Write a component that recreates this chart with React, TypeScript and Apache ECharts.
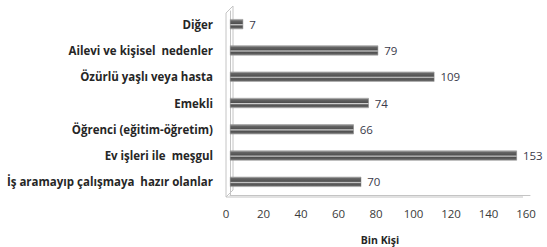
import React, { useEffect, useRef } from "react";
import * as echarts from "echarts";

const categories = [
  "İş aramayıp çalışmaya  hazır olanlar",
  "Ev işleri ile  meşgul",
  "Öğrenci (eğitim-öğretim)",
  "Emekli",
  "Özürlü yaşlı veya hasta",
  "Ailevi ve kişisel  nedenler",
  "Diğer",
];
const values = [70, 153, 66, 74, 109, 79, 7];
const xTicks = [0, 20, 40, 60, 80, 100, 120, 140, 160];
const axisTitle = "Bin Kişi";

export default function App() {
  const ref = useRef<HTMLDivElement>(null);
  useEffect(() => {
    if (!ref.current) return;
    const chart = echarts.init(ref.current, null, { renderer: "svg" });
    const font = "'Open Sans', 'Liberation Sans', Arial, sans-serif";
    chart.setOption({
      animation: false,
      backgroundColor: "#ffffff",
      grid: { left: 230, right: 17, top: 11, bottom: 52, containLabel: false, outerBoundsMode: "none" },
      xAxis: {
        type: "value",
        min: xTicks[0],
        max: xTicks[xTicks.length - 1],
        interval: 20,
        splitLine: { show: false },
        axisTick: { show: false },
        axisLine: { show: true, lineStyle: { color: "#c4c4c4", width: 1 } },
        axisLabel: {
          color: "#3a3a3a",
          fontSize: 11.5,
          fontFamily: font,
          margin: 12,
          padding: [0, 8, 0, 0],
        },
        name: axisTitle,
        nameLocation: "middle",
        nameGap: 39,
        nameTextStyle: { color: "#262626", fontSize: 10.5, fontWeight: "bold", fontFamily: font },
      },
      yAxis: {
        type: "category",
        data: categories,
        axisTick: { show: false },
        axisLine: { show: true, lineStyle: { color: "#c4c4c4", width: 1 } },
        axisLabel: {
          color: "#262626",
          fontSize: 11.5,
          fontWeight: "bold",
          fontFamily: font,
          margin: 17,
        },
      },
      graphic: [
        {
          type: "polyline",
          shape: { points: [[226, 197], [226, 13], [233, 6], [233, 190]] },
          style: { stroke: "#c4c4c4", lineWidth: 1, fill: null },
          silent: true,
        },
        {
          type: "line",
          shape: { x1: 226, y1: 197, x2: 233, y2: 190 },
          style: { stroke: "#c4c4c4", lineWidth: 1 },
          silent: true,
        },
        {
          type: "line",
          shape: { x1: 226, y1: 197, x2: 523, y2: 197 },
          style: { stroke: "#c4c4c4", lineWidth: 1 },
          silent: true,
        },
      ],
      series: [
        {
          type: "bar",
          data: values,
          barWidth: 10,
          itemStyle: {
            color: new echarts.graphic.LinearGradient(0, 0, 0, 1, [
              { offset: 0, color: "#b8b8b8" },
              { offset: 0.15, color: "#666666" },
              { offset: 0.45, color: "#505050" },
              { offset: 0.55, color: "#d0d0d0" },
              { offset: 0.7, color: "#505050" },
              { offset: 0.9, color: "#646464" },
              { offset: 1, color: "#b0b0b0" },
            ]),
            borderColor: "#808080",
            borderWidth: 0.5,
          },
          label: {
            show: true,
            position: "right",
            distance: 6,
            color: "#3a3a4a",
            fontSize: 11.5,
            fontFamily: font,
          },
        },
      ],
    });
    return () => chart.dispose();
  }, []);
  return (
    <div
      ref={ref}
      style={{ position: "absolute", left: 0, top: 0, width: 547, height: 247 }}
    />
  );
}
